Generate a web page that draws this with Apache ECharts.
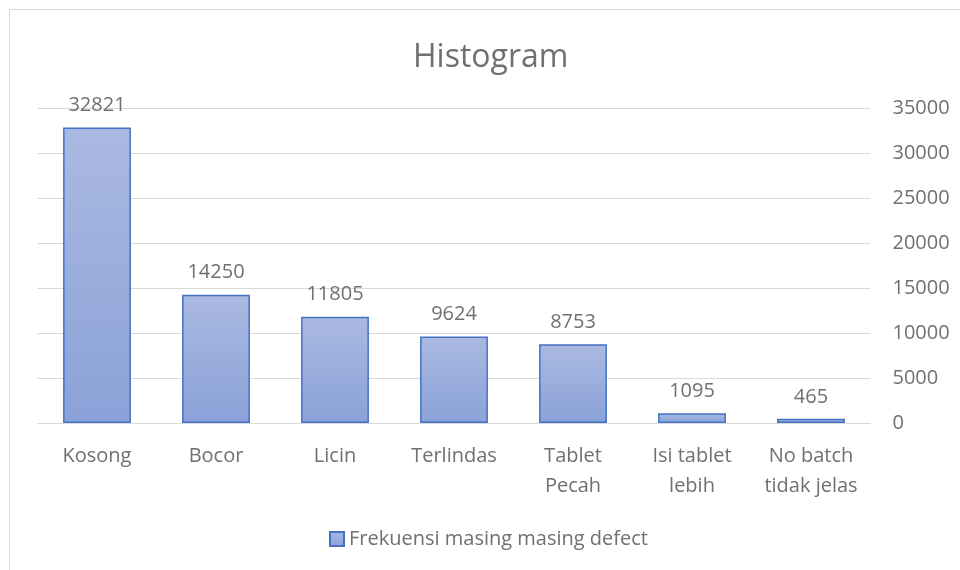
<!DOCTYPE html>
<html><head><meta charset="utf-8">
<script src="https://cdn.jsdelivr.net/npm/echarts@6/dist/echarts.min.js"></script>
<style>html,body{margin:0;padding:0;background:#fff}#c{width:960px;height:570px}</style>
</head><body><div id="c"></div>
<script>
const categories = ['Kosong','Bocor','Licin','Terlindas','Tablet\nPecah','Isi tablet\nlebih','No batch\ntidak jelas'];
const values = [32821,14250,11805,9624,8753,1095,465];
const seriesName = 'Frekuensi masing masing defect';
const yTicks = {min:0,max:35000,interval:5000};
const FONT = '"Open Sans", sans-serif';
const TXT = '#707070';
const chart = echarts.init(document.getElementById('c'));
chart.setOption({
  animation:false,
  backgroundColor:'#fff',
  graphic:[{type:'rect',shape:{x:9.5,y:9.5,width:960,height:570},style:{fill:null,stroke:'#d9d9d9',lineWidth:1},silent:true}],
  title:{text:'Histogram',left:408,top:37,textStyle:{fontFamily:FONT,fontSize:32,fontWeight:'normal',color:TXT}},
  legend:{bottom:16,left:324,itemWidth:14,itemHeight:14,itemGap:6,icon:'rect',
    textStyle:{fontFamily:FONT,fontSize:20,color:TXT},data:[seriesName]},
  grid:{left:37.5,right:89.5,top:108,bottom:147},
  xAxis:{type:'category',data:categories,
    axisLine:{lineStyle:{color:'#d9d9d9'}},axisTick:{show:false},
    axisLabel:{fontFamily:FONT,fontSize:20,color:TXT,margin:18,lineHeight:30,interval:0}},
  yAxis:{type:'value',position:'right',min:yTicks.min,max:yTicks.max,interval:yTicks.interval,
    axisLine:{show:false},axisTick:{show:false},
    splitLine:{lineStyle:{color:'#d9d9d9'}},
    axisLabel:{fontFamily:FONT,fontSize:20,color:TXT,margin:22,formatter:v=>String(v)}},
  series:[{name:seriesName,type:'bar',data:values,barWidth:'57%',
    itemStyle:{color:new echarts.graphic.LinearGradient(0,0,0,1,[{offset:0,color:'#aab9e1'},{offset:1,color:'#8aa2d8'}]),
      borderColor:'#4472c4',borderWidth:1.5},
    label:{show:true,position:'top',distance:12,fontFamily:FONT,fontSize:20,color:TXT}}]
});
</script></body></html>
